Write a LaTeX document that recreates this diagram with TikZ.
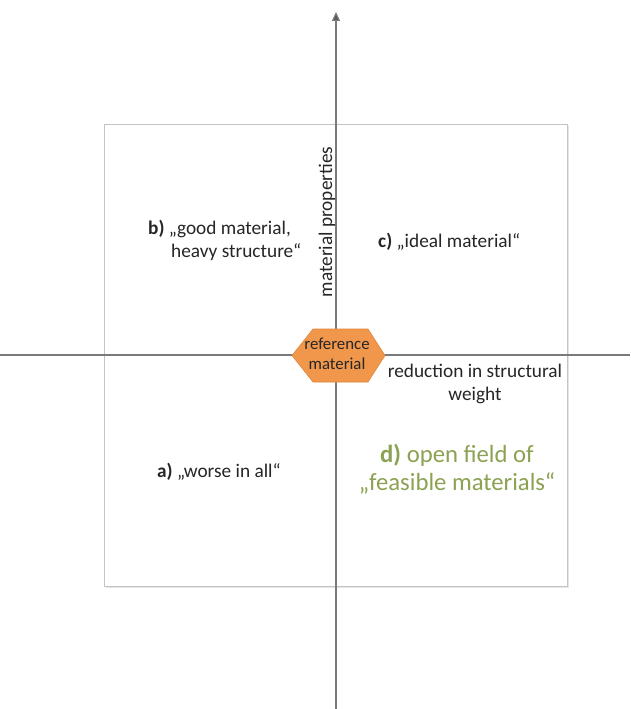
\documentclass[tikz,border=0pt]{standalone}
\usepackage{fontspec}
\setmainfont{Carlito}
\usetikzlibrary{arrows.meta}
\definecolor{axisgray}{HTML}{7A7A7A}
\definecolor{tipgray}{HTML}{5A5A5A}
\definecolor{framegray}{HTML}{C4C4C4}
\definecolor{shadowgray}{HTML}{E6E6E6}
\definecolor{hexorange}{HTML}{F0974C}
\definecolor{hexedge}{HTML}{E3873A}
\definecolor{textgray}{HTML}{262626}
\definecolor{fieldgreen}{HTML}{8CA252}
\tikzset{
  axisline/.style={draw=axisgray, line width=1.2pt},
  frame/.style={draw=framegray, line width=0.9pt},
  lbl/.style={inner sep=0pt, text=textgray, font=\fontsize{19.3}{23}\selectfont},
  hexlbl/.style={inner sep=0pt, text=textgray, align=center, font=\fontsize{16.8}{19.5}\selectfont},
  greenlbl/.style={inner sep=0pt, text=fieldgreen, align=center, font=\fontsize{24.7}{27.5}\selectfont},
}
\begin{document}
\begin{tikzpicture}[x=1pt, y=-1pt]
  \useasboundingbox (0,0) rectangle (630,709);

  % quadrant frame with a faint drop shadow
  \coordinate (fTL) at (104.5,124);
  \coordinate (fBR) at (567,586);
  \fill[shadowgray] (106,585) rectangle (569,588);
  \fill[shadowgray] (566,126) rectangle (569,588);
  \draw[frame, fill=white] (fTL) rectangle (fBR);

  % axes
  \coordinate (xL) at (0,355);
  \coordinate (xR) at (630,355);
  \coordinate (yB) at (336,709);
  \coordinate (yT) at (336,12);
  \draw[axisline] (xL) -- (xR);
  \draw[axisline, -{Triangle[length=9pt, width=8pt, fill=tipgray]}] (yB) -- (yT);

  % reference point
  \draw[hexedge, fill=hexorange, line width=0.6pt]
    (292,355.5) -- (313,329) -- (368,329) -- (385,355.5) -- (368,382) -- (313,382) -- cycle;
  \node[hexlbl, anchor=base] (ref) at (337,369) {reference\\material};

  % axis titles
  \node[lbl, rotate=90, anchor=base] (ytitle) at (332,222) {material properties};
  \node[lbl, align=center, anchor=base] (xtitle) at (475,400) {reduction in structural\\weight};

  % quadrant labels
  \node[lbl, align=left, anchor=base west] (qb) at (148,257)
    {\textbf{b)} „good material,\\\hspace*{23pt}heavy structure“};
  \node[lbl, anchor=base west] (qc) at (378,247) {\textbf{c)} „ideal material“};
  \node[lbl, anchor=base west] (qa) at (157,477) {\textbf{a)} „worse in all“};
  \node[greenlbl, anchor=base] (qd) at (457,490) {\textbf{d)} open field of\\„feasible materials“};
\end{tikzpicture}
\end{document}
